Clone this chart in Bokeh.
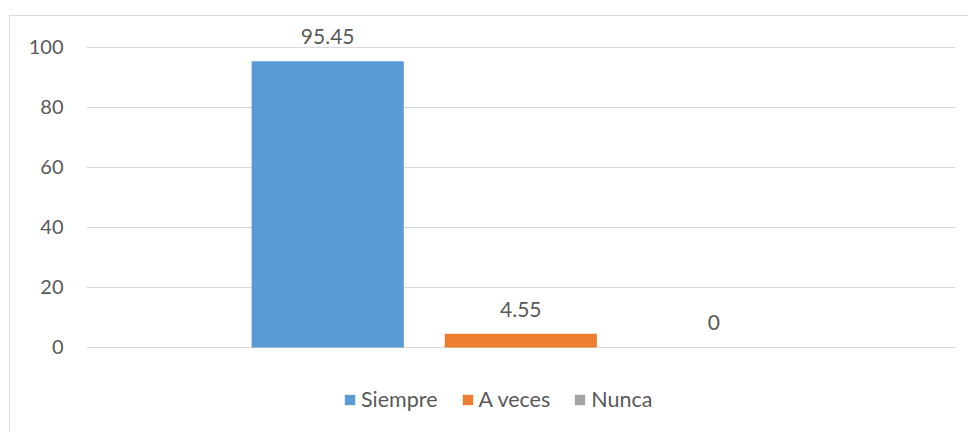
from bokeh.plotting import figure
from bokeh.models import ColumnDataSource, LabelSet, Range1d, FixedTicker, Legend, LegendItem
from bokeh.core.properties import value
from bokeh.embed import file_html
from bokeh.resources import INLINE

categories = ["Siempre", "A veces", "Nunca"]
values = [95.45, 4.55, 0]
colors = ["#5B9BD5", "#ED7D31", "#A5A5A5"]
y_ticks = [0, 20, 40, 60, 80, 100]

FONT = "Lato"
TXT = "#595959"

src = ColumnDataSource(dict(
    x=list(range(len(categories))),
    cat=categories,
    val=values,
    col=colors,
    lab=[f"{v:g}" for v in values],
))

p = figure(width=959, height=417, output_backend="svg", toolbar_location=None,
           x_range=Range1d(-1.249, 3.251), y_range=Range1d(-28.667, 109),
           min_border_left=76, min_border_right=14, min_border_top=4, min_border_bottom=0)
p.styles = {"margin-top": "15px", "margin-left": "9px",
            "border-top": "1px solid #D9D9D9", "border-left": "1px solid #D9D9D9"}
p.outline_line_color = None
p.background_fill_color = "white"
p.border_fill_color = "white"

r = p.vbar(x="x", top="val", width=0.788, fill_color="col", line_color=None, source=src)

p.xaxis.visible = False
p.xgrid.visible = False
p.yaxis.ticker = FixedTicker(ticks=y_ticks)
p.yaxis.axis_line_color = None
p.yaxis.major_tick_line_color = None
p.yaxis.minor_tick_line_color = None
p.yaxis.major_tick_out = 0
p.yaxis.major_label_standoff = 23
p.yaxis.major_label_text_font = FONT
p.yaxis.major_label_text_font_size = "20px"
p.yaxis.major_label_text_color = TXT
p.ygrid.grid_line_color = "#D9D9D9"
p.ygrid.grid_line_width = 1

labels = LabelSet(x="x", y="val", text="lab", source=src, text_align="center",
                  text_baseline="alphabetic", y_offset=17, text_font=value(FONT),
                  text_font_size=value("21px"), text_color=value(TXT))
p.add_layout(labels)

items = [LegendItem(label=c, renderers=[r], index=i) for i, c in enumerate(categories)]
legend = Legend(items=items, orientation="horizontal", location=(257, 21),
                glyph_width=13, glyph_height=13, label_standoff=5, spacing=23,
                padding=0, margin=0, label_text_font=FONT, label_text_font_size="21.5px",
                label_text_color=TXT, border_line_color=None, background_fill_alpha=0)
p.add_layout(legend, "center")

open("out.html", "w").write(file_html(p, INLINE))
